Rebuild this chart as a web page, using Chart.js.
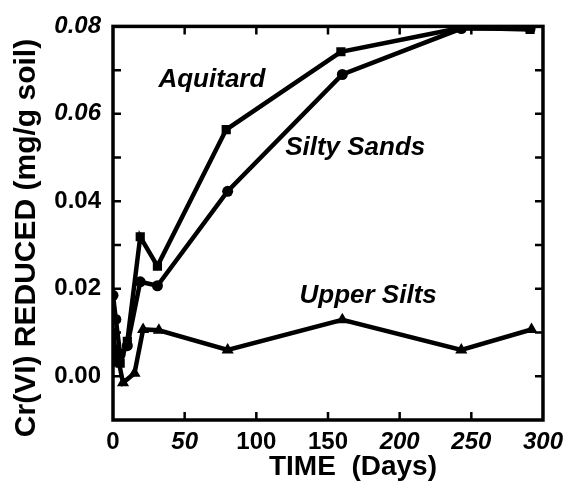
<!DOCTYPE html>
<html>
<head>
<meta charset="utf-8">
<script src="https://cdn.jsdelivr.net/npm/chart.js@4/dist/chart.umd.min.js"></script>
<style>
html,body{margin:0;padding:0;background:#fff;}
#wrap{width:571px;height:494px;}
</style>
</head>
<body>
<div id="wrap"><canvas id="c" width="571" height="494"></canvas></div>
<script>
// ---- data ----
const aquitardDays   = [0, 2, 5, 10, 19, 31, 79, 159, 243, 291];
const aquitardValues = [0.010, 0.005, 0.003, 0.008, 0.0319, 0.0252, 0.0564, 0.0742, 0.0797, 0.0793];

const siltySandsDays   = [0, 2, 5, 10, 19, 31, 80, 160, 243, 291];
const siltySandsValues = [0.0185, 0.013, 0.005, 0.007, 0.0216, 0.0207, 0.0423, 0.0690, 0.0795, 0.0795];

const upperSiltsDays   = [0, 3, 7, 15, 21, 32, 80, 160, 243, 292];
const upperSiltsValues = [0.003, 0.005, -0.0015, 0.0007, 0.0107, 0.0105, 0.0060, 0.0129, 0.0060, 0.0107];

const xTickValues = [0, 50, 100, 150, 200, 250, 300];
const yTickLabels = ['0.00', '0.02', '0.04', '0.06', '0.08'];

const seriesNames = ['Aquitard', 'Silty Sands', 'Upper Silts'];
const xTitle = 'TIME  (Days)';
const yTitle = 'Cr(VI) REDUCED (mg/g soil)';

// ---- build ----
const FONT = "'Liberation Sans', Arial, Helvetica, sans-serif";
function pts(d, v){ return d.map((x,i)=>({x:x, y:v[i]})); }

const italicX = {50:true, 200:true, 250:true, 300:true};

const labelPositions = [
  {text: seriesNames[0], x: 69,  y: 0.0678},
  {text: seriesNames[1], x: 169, y: 0.0522},
  {text: seriesNames[2], x: 178, y: 0.0185}
];

const framePlugin = {
  id: 'frame',
  afterDatasetsDraw(chart){
    const {ctx, chartArea:a, scales:{x, y}} = chart;
    ctx.save();
    ctx.strokeStyle = '#000';
    ctx.lineWidth = 3.5;
    ctx.strokeRect(a.left, a.top, a.right - a.left, a.bottom - a.top);
    ctx.lineWidth = 2.5;
    const L = 8;
    y.ticks.forEach(t => {
      if (t.value <= y.min + 1e-9 || t.value >= y.max - 1e-9) return;
      const py = y.getPixelForValue(t.value);
      ctx.beginPath();
      ctx.moveTo(a.left, py); ctx.lineTo(a.left + L, py);
      ctx.moveTo(a.right, py); ctx.lineTo(a.right - L, py);
      ctx.stroke();
    });
    x.ticks.forEach(t => {
      if (t.value <= x.min + 1e-9 || t.value >= x.max - 1e-9) return;
      const px = x.getPixelForValue(t.value);
      ctx.beginPath();
      ctx.moveTo(px, a.bottom); ctx.lineTo(px, a.bottom - L);
      ctx.moveTo(px, a.top); ctx.lineTo(px, a.top + L);
      ctx.stroke();
    });
    // series annotations
    ctx.fillStyle = '#000';
    ctx.font = "italic bold 26px " + FONT;
    ctx.textAlign = 'center';
    ctx.textBaseline = 'middle';
    labelPositions.forEach(l => {
      ctx.fillText(l.text, x.getPixelForValue(l.x), y.getPixelForValue(l.y));
    });
    // axis titles
    ctx.font = "bold 28px " + FONT;
    ctx.textBaseline = 'alphabetic';
    ctx.fillText(xTitle, (a.left + a.right)/2 + 25, 475);
    ctx.translate(35, 238);
    ctx.rotate(-Math.PI/2);
    ctx.font = "bold 30px " + FONT;
    ctx.fillText(yTitle, 0, 0);
    ctx.restore();
  }
};

const common = {
  borderColor: '#000', backgroundColor: '#000',
  borderWidth: 4.5, pointBorderWidth: 0, showLine: true, tension: 0
};

new Chart(document.getElementById('c'), {
  type: 'scatter',
  data: {
    datasets: [
      Object.assign({label: seriesNames[0], data: pts(aquitardDays, aquitardValues), pointStyle: 'rect', pointRadius: 6.5}, common),
      Object.assign({label: seriesNames[1], data: pts(siltySandsDays, siltySandsValues), pointStyle: 'circle', pointRadius: 5.5}, common),
      Object.assign({label: seriesNames[2], data: pts(upperSiltsDays, upperSiltsValues), pointStyle: 'triangle', pointRadius: 7}, common)
    ]
  },
  options: {
    responsive: false,
    animation: false,
    devicePixelRatio: 1,
    layout: {padding: {top: 18, right: 26, left: 0, bottom: 0}},
    plugins: {legend: {display: false}, tooltip: {enabled: false}},
    scales: {
      x: {
        type: 'linear', min: 0, max: 300,
        afterBuildTicks(s){ s.ticks = xTickValues.map(v => ({value: v})); },
        afterFit(s){ s.height = 74; },
        grid: {display: false, drawTicks: false},
        border: {display: false},
        ticks: {
          padding: 8, color: '#000', maxRotation: 0, autoSkip: false,
          font: ctx => ({family: FONT, size: 24,
                         style: italicX[ctx.tick && ctx.tick.value] ? 'italic' : 'normal',
                         weight: 'bold'}),
          callback: v => String(v)
        }
      },
      y: {
        type: 'linear', min: -0.01, max: 0.08,
        ticks: {
          stepSize: 0.01, padding: 12, color: '#000', autoSkip: false,
          font: ctx => {
            const v = ctx.tick ? Math.round(ctx.tick.value * 100) : 0;
            return {family: FONT, size: 24, weight: 'bold',
                    style: (v === 8 || v === 6) ? 'italic' : 'normal'};
          },
          callback: v => {
            const k = Math.round(v * 100);
            if (k < 0 || k % 2 !== 0) return '';
            return yTickLabels[k / 2];
          }
        },
        afterFit(s){ s.width = 113; },
        grid: {display: false, drawTicks: false},
        border: {display: false}
      }
    }
  },
  plugins: [framePlugin]
});
</script>
</body>
</html>
